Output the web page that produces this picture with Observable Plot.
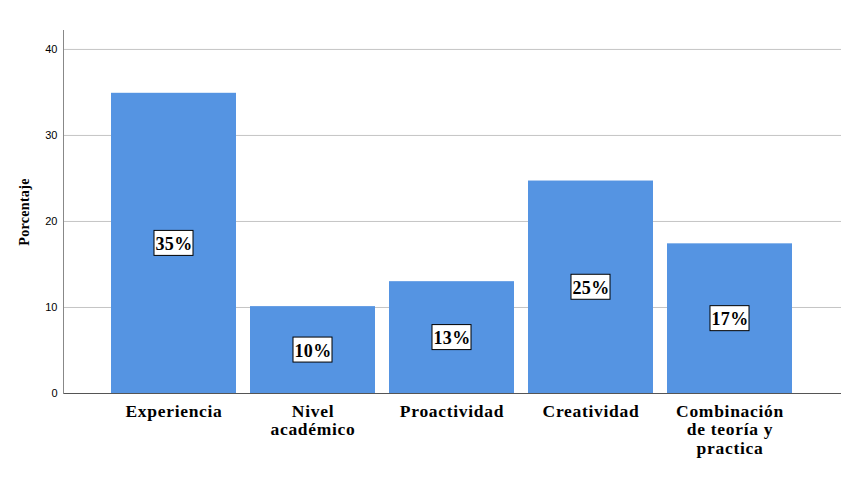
<!DOCTYPE html>
<html>
<head>
<meta charset="utf-8">
<script src="https://cdn.jsdelivr.net/npm/d3@7"></script>
<script src="https://cdn.jsdelivr.net/npm/@observablehq/plot@0.6"></script>
<style>
  html, body { margin: 0; padding: 0; background: #fff; }
  g[aria-label="x-axis tick label"] text { letter-spacing: 0.7px; }
  g[aria-label="y-axis label"] text { letter-spacing: 0.3px; }
  g[aria-label="text"] text { letter-spacing: 0.3px; }
</style>
</head>
<body>
<div id="chart"></div>
<script>
const categories = ["Experiencia", "Nivel\nacadémico", "Proactividad", "Creatividad", "Combinación\nde teoría y\npractica"];
const values = [34.9, 10.1, 13.0, 24.7, 17.4];
const labels = ["35%", "10%", "13%", "25%", "17%"];
const yTicks = [0, 10, 20, 30, 40];

const data = categories.map((c, i) => ({cat: c, value: values[i], label: labels[i]}));

const serif = "'Liberation Serif', 'Times New Roman', serif";
const sans = "'Liberation Sans', Arial, sans-serif";

const chart = Plot.plot({
  width: 851,
  height: 492,
  marginLeft: 63,
  marginRight: 10,
  marginTop: 30,
  marginBottom: 99,
  style: {background: "#fff", overflow: "visible"},
  x: {domain: categories, paddingInner: 0.1, paddingOuter: 0.33, axis: null},
  y: {domain: [0, 42.2], axis: null},
  marks: [
    Plot.gridY(yTicks.filter(t => t > 0), {stroke: "#c4c4c4", strokeOpacity: 1}),
    Plot.barY(data, {x: "cat", y: "value", fill: "#5594e2"}),
    Plot.barY(data, {
      x: "cat", y1: d => d.value / 2, y2: d => d.value / 2,
      insetTop: -12.5, insetBottom: -12.5, insetLeft: 43, insetRight: 43,
      fill: "white", stroke: "black", strokeWidth: 1
    }),
    Plot.text(data, {
      x: "cat", y: d => d.value / 2, text: "label",
      fontSize: 18, fontWeight: "bold", fontFamily: serif, fill: "black", dy: 1
    }),
    Plot.ruleY([0], {stroke: "#555", strokeWidth: 1}),
    Plot.frame({anchor: "left", stroke: "#888"}),
    Plot.axisY({
      ticks: yTicks, tickSize: 0, tickPadding: 6, label: null,
      fontSize: 11, fontFamily: sans, fill: "#000"
    }),
    Plot.axisY({
      ticks: [], label: "Porcentaje", labelAnchor: "center", labelArrow: "none",
      labelOffset: 44, fontSize: 14, fontWeight: "bold", fontFamily: serif, fill: "#000"
    }),
    Plot.axisX({
      tickSize: 0, tickPadding: 10, label: null, lineHeight: 1.06,
      fontSize: 17.5, fontWeight: "bold", fontFamily: serif, fill: "#000"
    })
  ]
});

document.getElementById("chart").appendChild(chart);
</script>
</body>
</html>
